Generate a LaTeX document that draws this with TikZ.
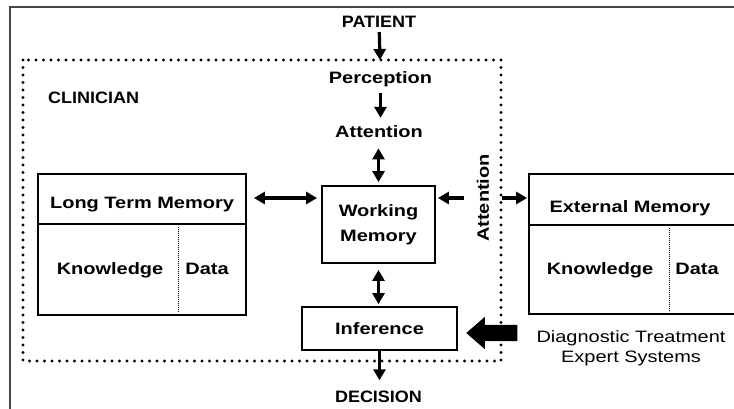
\documentclass[tikz,border=0pt]{standalone}
\usepackage{fontspec}
\setmainfont{Liberation Sans}[FakeStretch=1.21]
\newfontfamily\capsfont{Liberation Sans}[FakeStretch=1.09]
\usepackage{tikz}
\tikzset{>=latex}
\usetikzlibrary{arrows.meta}
\usetikzlibrary{shapes.arrows}
\usetikzlibrary{positioning}
\definecolor{framegray}{RGB}{70,70,70}

\begin{document}
\begin{tikzpicture}[x=1pt, y=-1pt]
  \tikzset{label text/.style={font=\bfseries\fontsize{16.5}{25}\selectfont, inner sep=0pt}};
  \tikzset{caps text/.style={font=\capsfont\bfseries\fontsize{16.5}{20}\selectfont, inner sep=0pt}};
  \tikzset{memory box/.style={draw, line width=1.8pt, inner sep=0pt, align=center, font=\bfseries\fontsize{16.5}{25}\selectfont}};
  \tikzset{flow/.style={-{Triangle[width=12pt,length=11pt]}, line width=3.2pt}};
  \tikzset{both flow/.style={{Triangle[width=12pt,length=11pt]}-{Triangle[width=12pt,length=11pt]}, line width=3.2pt}};
  \tikzset{dots/.style={line width=3.2pt, line cap=round, dash pattern=on 0pt off 7.5pt}};
  \tikzset{fine dots/.style={line width=1pt, dash pattern=on 1pt off 1pt}};
  \useasboundingbox (0,0) rectangle (734,408);
  % outer frame
  \draw[line width=1.8pt, framegray] (740,7) -- (10,7) -- (10,410);
  % clinician
  \draw[dots] (23,60) rectangle (501,361);
  \coordinate (clintop) at (380,60);
  \coordinate (clinright) at (502,198);
  \coordinate (row) at (0,198);
  \node[caps text, anchor=base west] (clinician) at (48,103) {CLINICIAN};
  \node[caps text, anchor=base] (patient) at (379,27) {PATIENT};
  \node[label text, anchor=base] (perception) at (380.5,83) {Perception};
  \node[label text, anchor=base] (attention) at (379,137) {Attention};
  \node[label text, rotate=90] (sideattn) at (483,198) {Attention};
  \node[memory box, minimum width=113pt, minimum height=77pt] (wm) at (378.5,224.5) {Working\\Memory};
  \node[memory box, minimum width=155pt, minimum height=43pt] (inference) at (379.5,328.5) {Inference};
  \node[caps text, anchor=base] (decision) at (378.5,402) {DECISION};
  % long term memory
  \node[memory box, minimum width=208pt, minimum height=141pt] (ltm) at (142,244.5) {};
  \draw[line width=1.8pt] (ltm.west |- 0,224) -- (ltm.east |- 0,224);
  \draw[fine dots] (178,227) -- (178,313);
  \node[label text, anchor=base] (ltmtitle) at (142,208) {Long Term Memory};
  \node[label text, anchor=base] (ltmknow) at (110,274) {Knowledge};
  \node[label text, anchor=base] (ltmdata) at (207,274) {Data};
  % external memory
  \node[memory box, minimum width=231pt, minimum height=140pt] (ext) at (644.5,244) {};
  \draw[line width=1.8pt] (ext.west |- 0,225) -- (ext.east |- 0,225);
  \draw[fine dots] (669,228) -- (669,312);
  \node[label text, anchor=base] (exttitle) at (630,212) {External Memory};
  \node[label text, anchor=base] (extknow) at (600,274) {Knowledge};
  \node[label text, anchor=base] (extdata) at (697,274) {Data};
  % expert systems
  \node[single arrow, fill=black, shape border rotate=180, minimum height=51pt, inner sep=8pt,
        single arrow head extend=8pt, single arrow head indent=0pt, single arrow tip angle=82] (push) at (496.5,333) {};
  \node[font=\fontsize{16.5}{20}\selectfont, align=center, inner sep=0pt, anchor=base] (expert) at (631,362) {Diagnostic Treatment\\Expert Systems};
  % arrows
  \draw[flow, shorten <=5pt] (patient) -- (clintop);
  \draw[flow, shorten <=6.5pt, shorten >=7pt] (perception.south) -- (perception.south |- attention.north);
  \draw[both flow, shorten <=11pt, shorten >=3pt] (wm.north |- attention.south) -- (wm.north);
  \draw[both flow, shorten <=7pt, shorten >=4pt] (ltm.east |- row) -- (wm.west |- row);
  \draw[flow, shorten <=13pt, shorten >=2pt] (sideattn.north |- row) -- (wm.east |- row);
  \draw[flow, shorten >=1pt] (clinright) -- (ext.west |- row);
  \draw[both flow, shorten <=6pt, shorten >=2pt] (wm.south) -- (wm.south |- inference.north);
  \draw[flow, shorten >=10pt] (inference.south) -- (inference.south |- decision.north);
\end{tikzpicture}
\end{document}
